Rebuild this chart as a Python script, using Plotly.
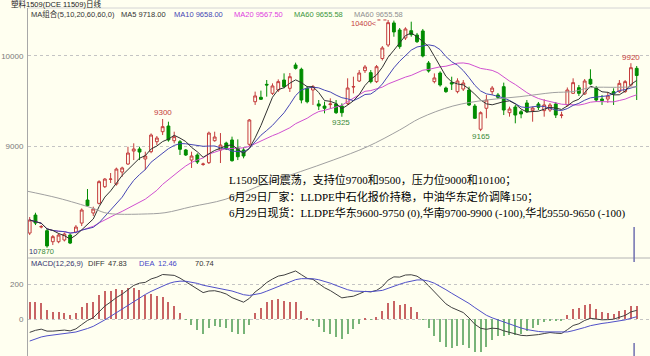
import plotly.graph_objects as go
import pandas as pd

# ---------------- data ----------------
opens = [8033, 8233, 8100, 8059, 7937, 7937, 7956, 8011, 8044, 8144,
         8400, 8256, 8363, 8548, 8630, 8578, 8711, 8800, 8944, 8967,
         8856, 8937, 9048, 9159, 9222, 9059, 9048, 8956, 8844, 8900,
         8795, 8815, 9059, 8956, 9033, 9067, 8978, 8956, 9019, 9492,
         9541, 9685, 9585, 9622, 9733, 9641, 9900, 9852, 9641, 9622,
         9467, 9444, 9460, 9467, 9444, 9474, 9655, 9722, 9837, 9815,
         9715, 9972, 10122, 10367, 10289, 10200, 10281, 10233, 10278, 9922,
         9715, 9811, 9644, 9704, 9604, 9633, 9622, 9444, 9186, 9419,
         9604, 9567, 9659, 9370, 9433, 9381, 9478, 9393, 9467, 9393,
         9400, 9467, 9340, 9456, 9585, 9648, 9578, 9741, 9648, 9522,
         9522, 9604, 9604, 9604, 9678, 9863]
highs = [8211, 8259, 8122, 8078, 8011, 8030, 8040, 8030, 8122, 8307,
         8522, 8326, 8620, 8644, 8700, 8760, 8770, 8992, 9030, 8992,
         8937, 9140, 9111, 9300, 9270, 9159, 9067, 8967, 8937, 8919,
         8815, 9160, 9159, 9144, 9048, 9104, 9074, 8985, 9300, 9604,
         9615, 9733, 9696, 9740, 9807, 9811, 9926, 9870, 9667, 9678,
         9511, 9493, 9530, 9511, 9474, 9752, 9770, 9844, 9900, 9844,
         9900, 10110, 10400, 10393, 10311, 10319, 10381, 10256, 10300, 9944,
         9807, 9830, 9660, 9770, 9752, 9733, 9659, 9467, 9385, 9567,
         9667, 9589, 9704, 9437, 9456, 9400, 9511, 9437, 9489, 9519,
         9478, 9489, 9381, 9650, 9752, 9678, 9744, 9852, 9667, 9567,
         9600, 9641, 9733, 9733, 9920, 9889]
lows = [8011, 8122, 8085, 7870, 7900, 7920, 7940, 7911, 8030, 8111,
        8326, 8222, 8350, 8533, 8589, 8560, 8659, 8789, 8844, 8844,
        8733, 8920, 9011, 9122, 9048, 9030, 8900, 8889, 8756, 8800,
        8780, 8800, 9048, 8811, 8956, 8826, 8844, 8863, 9000, 9456,
        9511, 9548, 9567, 9600, 9641, 9600, 9850, 9474, 9474, 9456,
        9400, 9363, 9419, 9356, 9325, 9456, 9585, 9711, 9811, 9696,
        9700, 9950, 10100, 10214, 10080, 10178, 10214, 10144, 9985, 9815,
        9696, 9660, 9590, 9622, 9585, 9611, 9444, 9300, 9165, 9308,
        9567, 9522, 9344, 9326, 9252, 9308, 9367, 9270, 9400, 9326,
        9378, 9311, 9308, 9440, 9578, 9556, 9567, 9678, 9489, 9456,
        9480, 9456, 9589, 9590, 9660, 9511]
closes = [8178, 8144, 8105, 7890, 7993, 8011, 8022, 7922, 8100, 8289,
          8337, 8300, 8604, 8633, 8633, 8744, 8756, 8922, 8967, 8933,
          8889, 9122, 9089, 9215, 9067, 9104, 8963, 8900, 8889, 8822,
          8800, 9144, 9100, 9011, 8967, 8837, 8881, 8889, 9289, 9556,
          9519, 9678, 9667, 9715, 9659, 9770, 9863, 9511, 9492, 9659,
          9444, 9419, 9467, 9370, 9370, 9644, 9660, 9811, 9878, 9715,
          9881, 10089, 10370, 10267, 10104, 10300, 10237, 10159, 10000, 9833,
          9756, 9678, 9604, 9689, 9722, 9700, 9456, 9308, 9370, 9511,
          9644, 9541, 9400, 9411, 9344, 9356, 9381, 9422, 9430, 9456,
          9456, 9344, 9344, 9622, 9704, 9585, 9722, 9689, 9511, 9504,
          9556, 9578, 9696, 9715, 9870, 9783]

# MA60 curve (bar position, value)
ma60_pos = [-0.8, 4.9, 10.8, 13.0, 14.8, 19.4, 23.4, 28.0, 33.8, 41.0, 46.8,
            52.5, 58.4, 64.0, 67.5, 73.2, 79.0, 84.8, 90.5, 94.0, 97.0, 101.5, 105.0]
ma60_val = [8503, 8422, 8311, 8259, 8244, 8244, 8259, 8326, 8407, 8589, 8715,
            8844, 8992, 9178, 9308, 9444, 9511, 9548, 9593, 9605, 9648, 9652, 9656]

# MACD state just before the first visible bar
ema12_seed = 8050.0
ema26_seed = 8143.0
dea_seed = -138.0

price_ticks = [9000, 10000]
macd_ticks = [0, 200]

title_text = "塑料1509(DCE 11509)日线"
ma_legend = [("MA组合(5,10,20,60,60,0)", "#333333"), ("MA5 9718.00", "#333333"),
             ("MA10 9658.00", "#4646B4"), ("MA20 9567.50", "#E040E0"),
             ("MA60 9655.58", "#3C963C"), ("MA60 9655.58", "#909090")]
macd_legend = [("MACD(12,26,9)", "#33336E"), ("DIFF", "#333333"), ("47.83", "#333333"),
               ("DEA", "#4646C8"), ("12.46", "#4646C8"), ("70.74", "#333333")]
note_lines = ["L1509区间震荡，支持位9700和9500，压力位9000和10100；",
              "6月29日厂家：LLDPE中石化报价持稳，中油华东定价调降150；",
              "6月29日现货：LLDPE华东9600-9750 (0),华南9700-9900 (-100),华北9550-9650 (-100)"]

# ---------------- derived series ----------------
n = len(closes)
idx = list(range(n))
s = pd.Series(closes, dtype=float)
ma5 = s.rolling(5, min_periods=1).mean()
ma10 = s.rolling(10, min_periods=1).mean()
ma20 = s.rolling(20, min_periods=1).mean()

diff, dea, macd = [], [], []
e12, e26, d = ema12_seed, ema26_seed, dea_seed
for c in closes:
    e12 = (2 * c + 11 * e12) / 13
    e26 = (2 * c + 25 * e26) / 27
    df = e12 - e26
    d = (2 * df + 8 * d) / 10
    diff.append(df)
    dea.append(d)
    macd.append(2 * (df - d))

# ---------------- figure ----------------
BG = "#FFFFF0"
RED = "#C43C3C"
GREEN = "#008C00"

W, H, L, T = 650, 356, 28, 8
PW, PH = W - L, H - T


def px(x):
    return (x - L) / PW


def py(y):
    return (H - y) / PH


split = py(258)

fig = go.Figure()
fig.add_trace(go.Candlestick(
    x=idx, open=opens, high=highs, low=lows, close=closes,
    increasing=dict(line=dict(color=RED, width=1), fillcolor=BG),
    decreasing=dict(line=dict(color=GREEN, width=1), fillcolor=GREEN),
    whiskerwidth=0, showlegend=False, hoverinfo="skip", xaxis="x", yaxis="y"))

for ser, col in [(ma20, "#D050D0"), (ma10, "#4646B4"), (ma5, "#303030")]:
    fig.add_trace(go.Scatter(x=idx, y=ser, mode="lines", line=dict(color=col, width=1),
                             showlegend=False, hoverinfo="skip", xaxis="x", yaxis="y"))
fig.add_trace(go.Scatter(x=ma60_pos, y=ma60_val, mode="lines",
                         line=dict(color="#A0A0A0", width=1, shape="spline", smoothing=1),
                         showlegend=False, hoverinfo="skip", xaxis="x", yaxis="y"))

fig.add_trace(go.Bar(x=idx, y=macd, width=0.2,
                     marker=dict(color=["#C86464" if v >= 0 else "#78B478" for v in macd],
                                 line=dict(width=0)),
                     showlegend=False, hoverinfo="skip", xaxis="x2", yaxis="y2"))
fig.add_trace(go.Scatter(x=idx, y=diff, mode="lines", line=dict(color="#404040", width=1),
                         showlegend=False, hoverinfo="skip", xaxis="x2", yaxis="y2"))
fig.add_trace(go.Scatter(x=idx, y=dea, mode="lines", line=dict(color="#5050C8", width=1),
                         showlegend=False, hoverinfo="skip", xaxis="x2", yaxis="y2"))

xr = [-0.29, 107.3]
tickfont = dict(family="Liberation Sans, Arial", size=8, color="#7A7A7A")
fig.update_layout(
    width=W, height=H, margin=dict(l=L, r=0, t=T, b=0),
    paper_bgcolor=BG, plot_bgcolor=BG, bargap=0,
    xaxis=dict(domain=[0, 1], range=xr, visible=False, anchor="y",
               rangeslider=dict(visible=False)),
    yaxis=dict(domain=[split, 1], range=[7756, 10533], tickvals=price_ticks,
               ticktext=[str(v) for v in price_ticks], tickfont=tickfont,
               showgrid=True, gridcolor="#C4C4C4", griddash="dot", gridwidth=1,
               zeroline=False, showline=True, linecolor="#A8A8A8", linewidth=1,
               ticks="", ticklabelstandoff=2),
    xaxis2=dict(domain=[0, 1], range=xr, visible=False, anchor="y2"),
    yaxis2=dict(domain=[0, split], range=[-211, 349], tickvals=macd_ticks,
                ticktext=[str(v) for v in macd_ticks], tickfont=tickfont,
                showgrid=True, gridcolor="#C4C4C4", griddash="dot", gridwidth=1,
                zeroline=False, showline=True, linecolor="#A8A8A8", linewidth=1,
                ticks="", ticklabelstandoff=2),
)

shapes = [
    dict(type="line", xref="paper", yref="paper", x0=0, x1=1, y0=1, y1=1,
         line=dict(color="#D4D4D4", width=1)),
    dict(type="line", xref="paper", yref="paper", x0=0, x1=1, y0=split, y1=split,
         line=dict(color="#B4B4B4", width=1)),
    # cursor marks at the right edge
    dict(type="line", xref="x", yref="paper", x0=104.55, x1=104.55, y0=py(258), y1=py(227),
         line=dict(color="#7070B0", width=1.5)),
    dict(type="line", xref="x2", yref="paper", x0=104.55, x1=104.55, y0=py(262), y1=py(258),
         line=dict(color="#7070B0", width=1.5)),
    dict(type="line", xref="x2", yref="paper", x0=104.55, x1=104.55, y0=0, y1=py(343),
         line=dict(color="#7070B0", width=1.5)),
]

# high/low markers
hi_i = highs.index(max(highs))
shapes.append(dict(type="line", xref="x", yref="y", x0=hi_i - 1.85, x1=hi_i - 0.2,
                   y0=highs[hi_i], y1=highs[hi_i], line=dict(color=RED, width=1, dash="dot")))
fig.update_layout(shapes=shapes)

ann = []


def label(i, val, above, color, xshift=0, yshift=0, xanchor="center", yanchor=None,
          text=None, size=8):
    ann.append(dict(x=i, y=val, xref="x", yref="y", text=text if text else str(val),
                    showarrow=False, xanchor=xanchor,
                    yanchor=yanchor if yanchor else ("bottom" if above else "top"),
                    xshift=xshift, yshift=yshift, borderpad=0,
                    font=dict(color=color, family="Liberation Sans, Arial", size=size)))


label(23, highs[23], True, RED, yshift=1)
label(hi_i, highs[hi_i], True, RED, xanchor="right", yanchor="middle", xshift=-10,
      yshift=-4, text=f"{highs[hi_i]}<", size=7.5)
label(54, lows[54], False, "#3A8A3A", xshift=-1)
label(78, lows[78], False, "#3A8A3A")
label(104, highs[104], True, RED)
# bottom-left low marker (partly covered by a navy tag in the original)
ann.append(dict(x=px(28), y=py(252), xref="paper", yref="paper",
                text=f"10<span style='color:#3A8A3A'>{lows[3]}</span>",
                showarrow=False, xanchor="left", yanchor="middle", borderpad=0,
                font=dict(color="#33336E", family="Liberation Sans, Arial", size=7.5)))

ann.append(dict(x=px(10), y=py(4), xref="paper", yref="paper", text=title_text,
                showarrow=False, xanchor="left", yanchor="middle", borderpad=0,
                font=dict(family="Liberation Sans, Noto Sans CJK SC", size=7.5, color="#222222")))

for (txt, col), x0 in zip(ma_legend, [30, 120, 173, 233, 293, 353]):
    ann.append(dict(x=px(x0), y=py(14), xref="paper", yref="paper", text=txt,
                    showarrow=False, xanchor="left", yanchor="middle", borderpad=0,
                    font=dict(family="Liberation Sans, Noto Sans CJK SC", size=7.5, color=col)))
for (txt, col), x0 in zip(macd_legend, [30, 87, 107, 138, 157, 194]):
    ann.append(dict(x=px(x0), y=py(263), xref="paper", yref="paper", text=txt,
                    showarrow=False, xanchor="left", yanchor="middle", borderpad=0,
                    font=dict(family="Liberation Sans, Arial", size=7.5, color=col)))

for txt, yy in zip(note_lines, [180, 196.5, 212.5]):
    ann.append(dict(x=px(227), y=py(yy), xref="paper", yref="paper", text=txt,
                    showarrow=False, xanchor="left", yanchor="middle",
                    font=dict(family="Liberation Serif, Noto Sans CJK SC", size=11, color="#000000")))

fig.update_layout(annotations=ann)
fig.write_html("out.html")
